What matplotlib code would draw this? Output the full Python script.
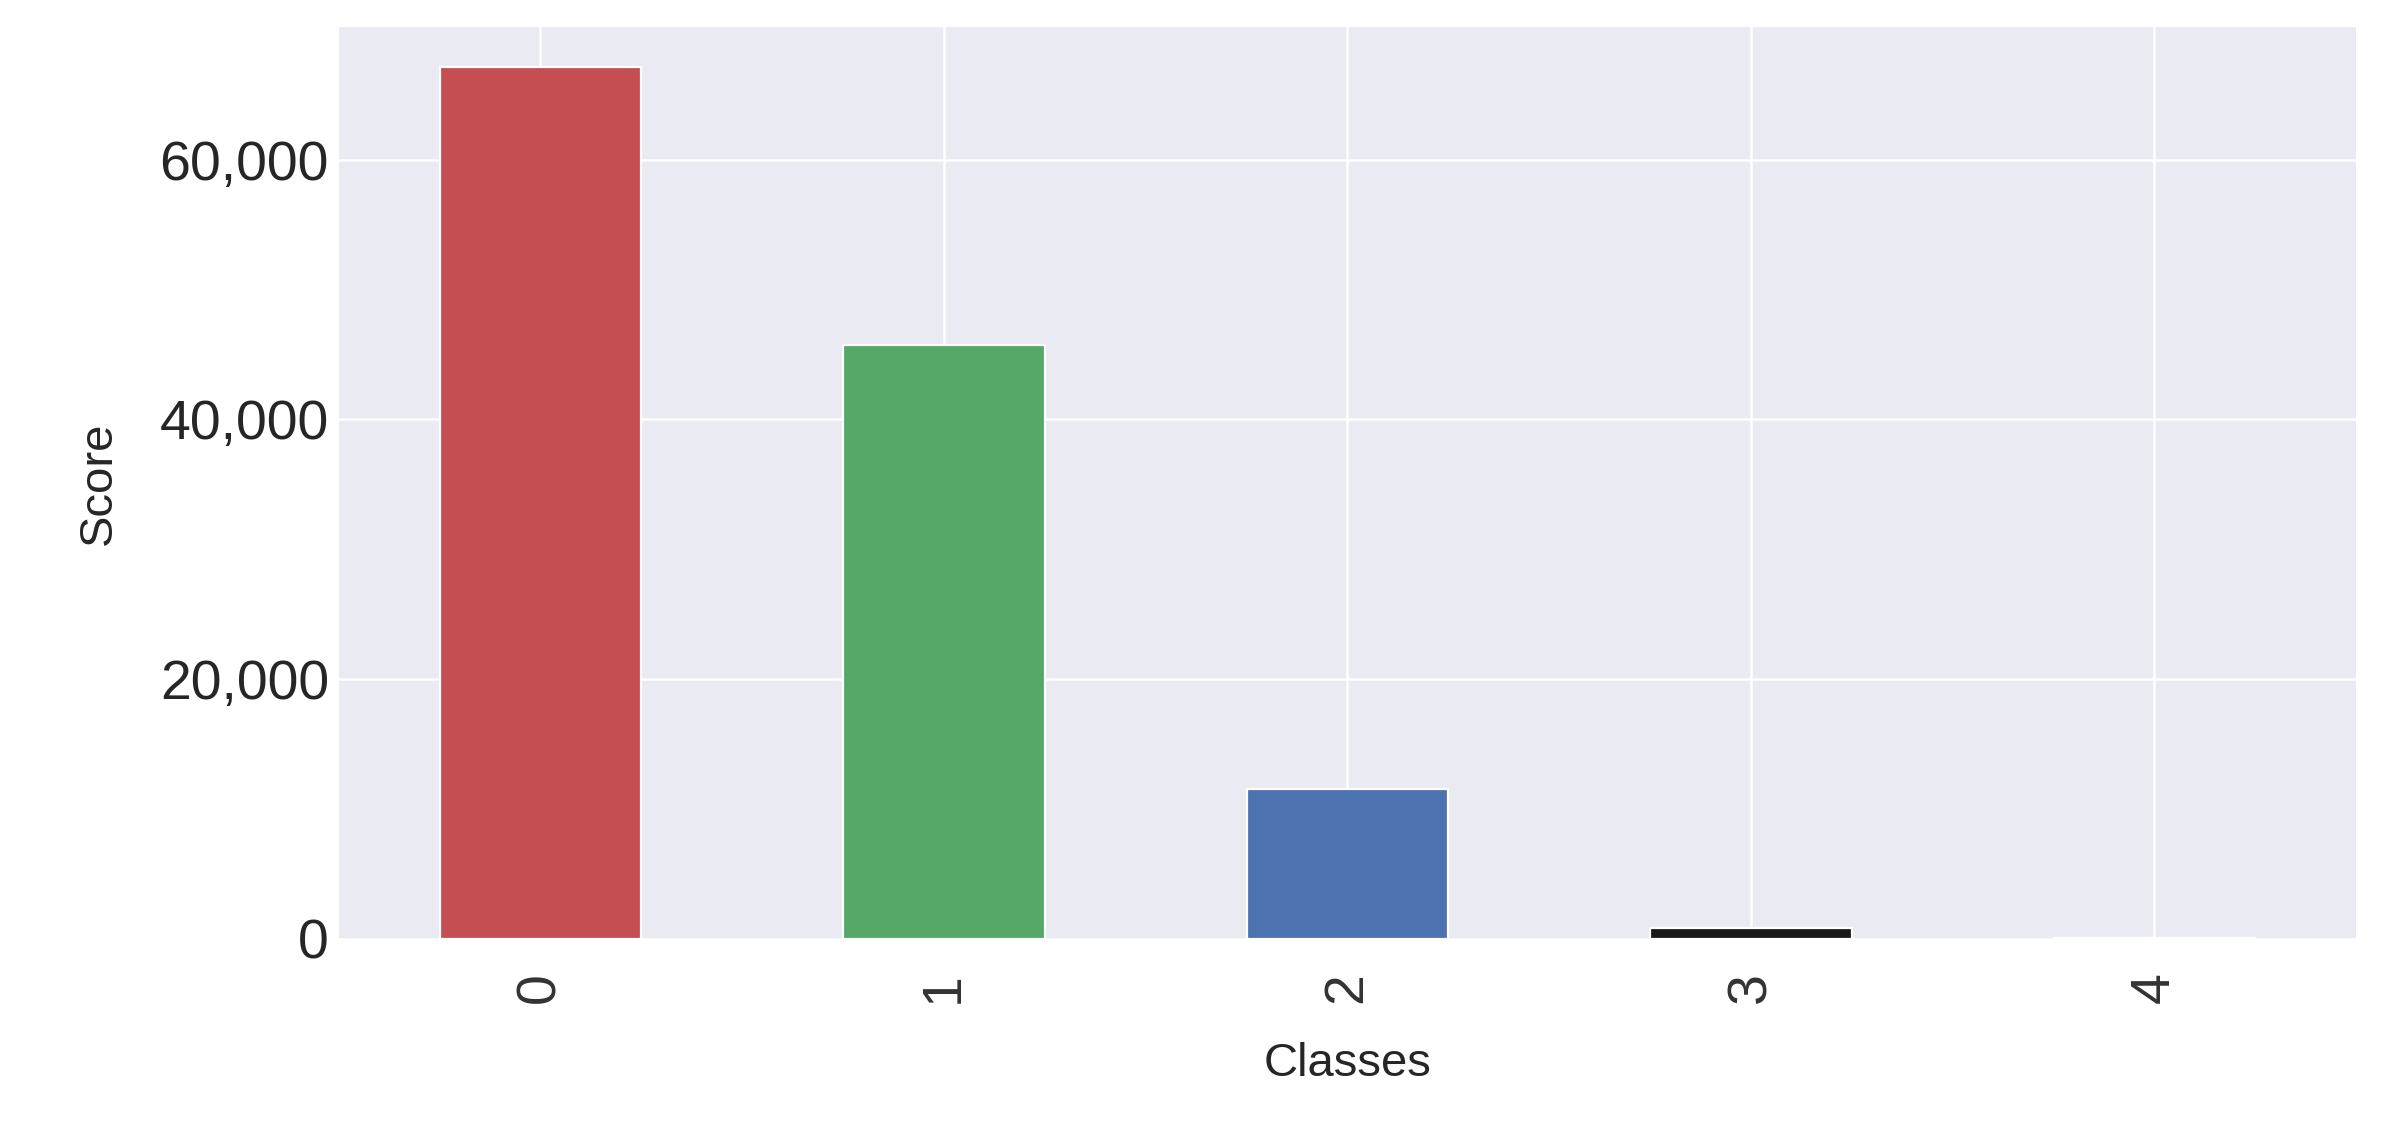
import matplotlib
matplotlib.use("Agg")
import matplotlib.pyplot as plt
from matplotlib.ticker import FuncFormatter
import seaborn as sns

sns.set_style("darkgrid")
plt.rcParams['font.family'] = ['Liberation Sans', 'DejaVu Sans']

classes = ["0", "1", "2", "3", "4"]
scores = [67100, 45700, 11550, 820, 40]
colors = ["#C44E52", "#55A868", "#4C72B0", "#1a1a1a", "#CCB974"]

fig = plt.figure(figsize=(11.96, 5.655), dpi=200)
ax = fig.add_axes([0.1416, 0.170, 0.8434, 0.806])
ax.set_facecolor("#EAEAF2")
ax.bar(range(len(classes)), scores, width=0.5, color=colors, edgecolor="white", linewidth=0.8)
ax.set_xlim(-0.5, 4.5)
ax.set_ylim(0, 70200)
ax.set_yticks([0, 20000, 40000, 60000])
ax.yaxis.set_major_formatter(FuncFormatter(lambda v, p: f"{int(v):,}"))
ax.set_xticks(range(len(classes)))
ax.set_xticklabels(classes, rotation=90, color="#333333")
ax.tick_params(axis='both', labelsize=20, length=0)
ax.tick_params(axis='x', pad=12)
ax.set_xlabel("Classes", fontsize=17, labelpad=14)
ax.set_ylabel("Score", fontsize=17, labelpad=14)
ax.grid(True, color="white", linewidth=0.9)
for s in ax.spines.values():
    s.set_visible(False)
fig.savefig("out.png", dpi=200, facecolor="white")
